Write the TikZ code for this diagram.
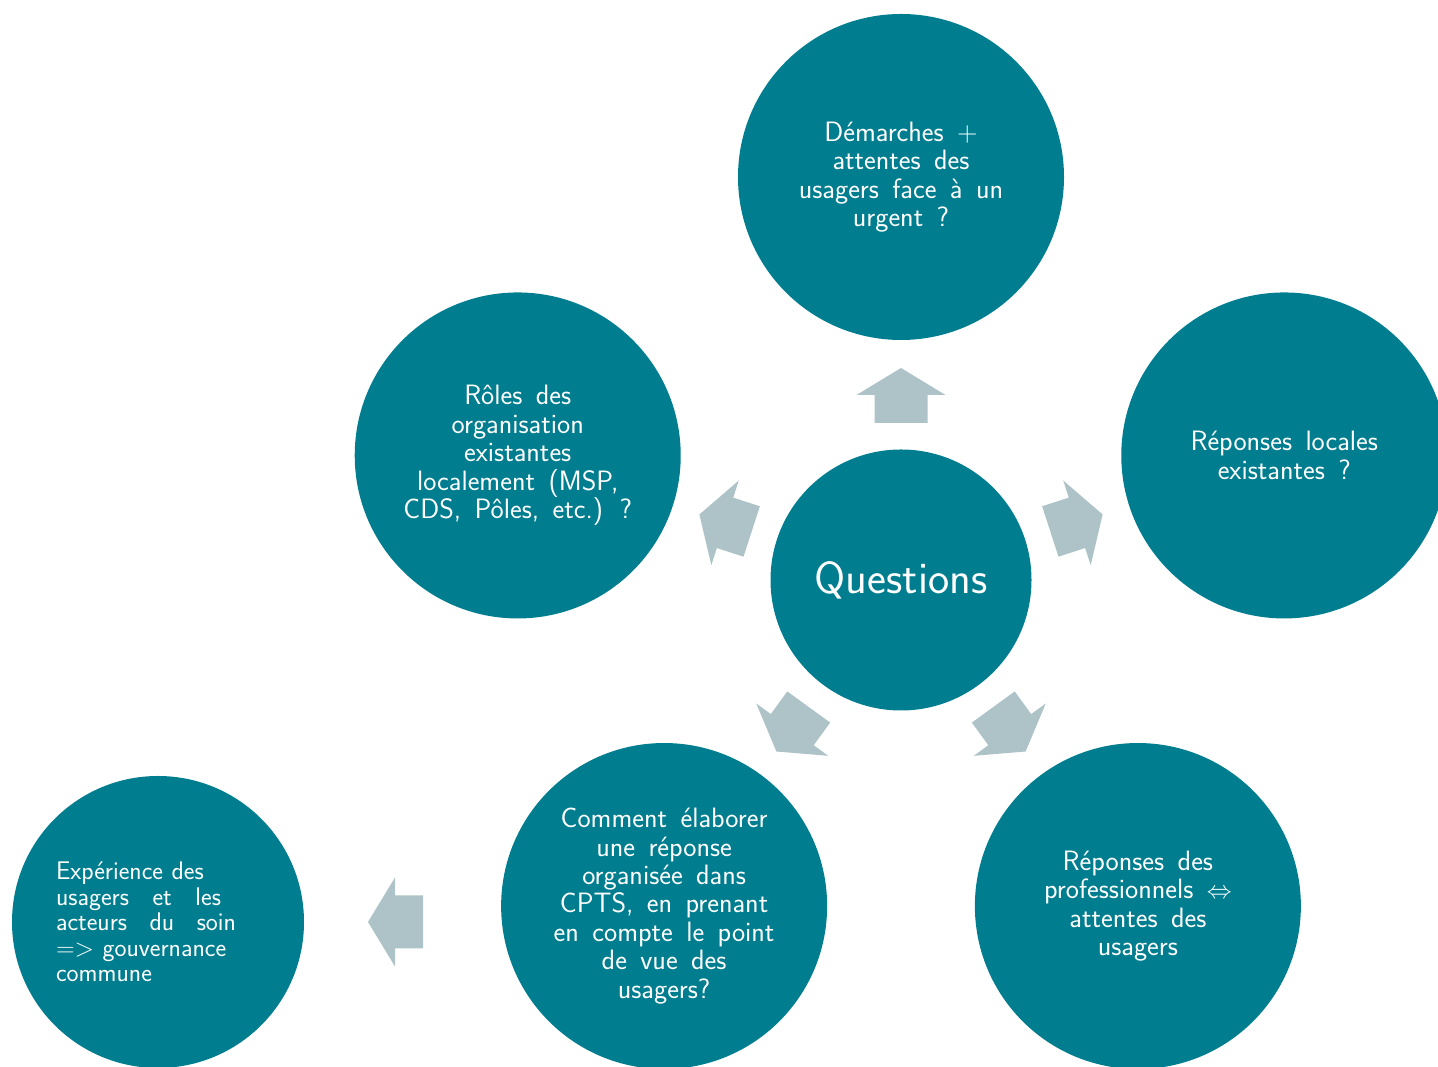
\documentclass[tikz,border=0pt]{standalone}
\usepackage{fontspec}
\usepackage{tikz}
\definecolor{bubblec}{HTML}{007E8F}
\definecolor{arrowc}{HTML}{ADC3C8}
\newcommand\bubblespacing[1]{\spaceskip=#1em plus 0.2em\relax}
\tikzset{
  bubblenode/.style={circle, fill=bubblec, text=white, minimum size=326pt, inner sep=0pt,
    align=center, font=\sffamily\fontsize{28}{28.4}\selectfont\bubblespacing{0.48}},
  hubnode/.style={bubblenode, minimum size=261pt, font=\sffamily\fontsize{45}{48}\selectfont},
  sidenode/.style={bubblenode, minimum size=292pt, text width=204pt, align=left,
    font=\sffamily\fontsize{25.5}{25.6}\selectfont\bubblespacing{0.45}},
  blockarrow/.pic={\fill[arrowc] (0,-26.5) -- (28,-26.5) -- (28,-44.5) -- (55,0)
    -- (28,44.5) -- (28,26.5) -- (0,26.5) -- cycle;},
}

\begin{document}
\begin{tikzpicture}[x=1pt, y=1pt]
  \useasboundingbox (0,0) rectangle (1438,1067);
  \clip (0,0) rectangle (1438,1067);
  \node[hubnode] (q) at (901,487) {Questions};
  \path (q) ++(90:403) node[bubblenode] (top) {D\'emarches +\\attentes des\\usagers face \`a un\\urgent ?};
  \path (q) ++(162:403) node[bubblenode] (left) {R\^oles des\\organisation\\existantes\\localement (MSP,\\CDS, P\^oles, etc.) ?};
  \path (q) ++(18:403) node[bubblenode] (right) {R\'eponses locales\\existantes ?};
  \path (q) ++(234:403) node[bubblenode] (bm) {Comment \'elaborer\\une r\'eponse\\organis\'ee dans\\CPTS, en prenant\\en compte le point\\de vue des\\usagers?};
  \path (q) ++(306:403) node[bubblenode] (br) {R\'eponses des\\professionnels $\Leftrightarrow$\\attentes des\\usagers};
  \node[sidenode] (fl) at (158,145) {Exp\'erience des\\\makebox[165pt][l]{usagers\hfill et\hfill les}\\\makebox[180pt][l]{acteurs\hfill du\hfill soin}\\=> gouvernance\\commune};
  \foreach \a in {90,162,18,234,306}
    \path (q) ++(\a:157) pic[rotate=\a] {blockarrow};
  \path (423,145) pic[rotate=180] {blockarrow};
\end{tikzpicture}
\end{document}
